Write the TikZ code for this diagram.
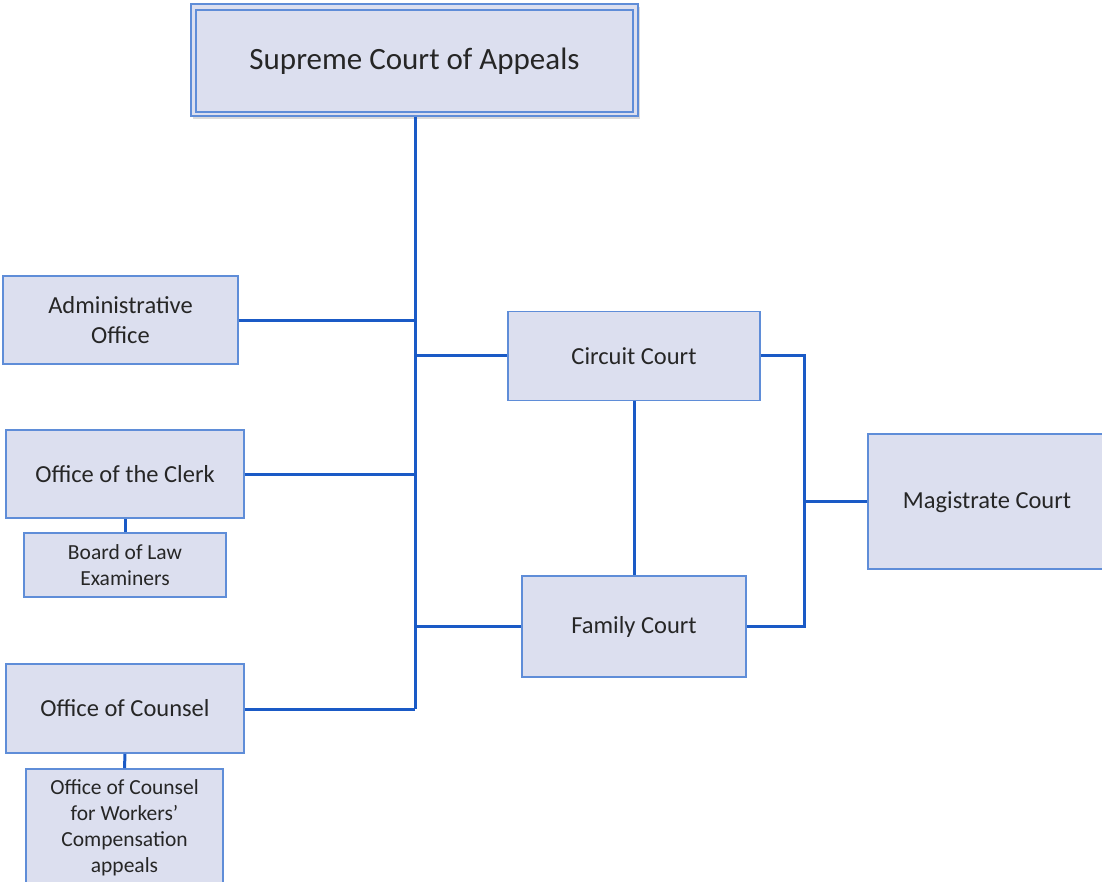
\documentclass[tikz,border=0pt]{standalone}
\usepackage{fontspec}
\setmainfont{Carlito}
\usetikzlibrary{shadows}
\definecolor{boxfill}{HTML}{DCDFEF}
\definecolor{boxline}{HTML}{5F8DD8}
\definecolor{conn}{HTML}{1A5AC6}
\tikzset{
  box/.style={draw=boxline, line width=1.8pt, fill=boxfill, align=center, inner sep=0pt, text=black!85},
  midtext/.style={font=\fontsize{24.5}{30}\selectfont},
  smalltext/.style={font=\fontsize{21.5}{26}\selectfont},
  link/.style={draw=conn, line width=3pt}
}
\begin{document}
\begin{tikzpicture}[x=1pt,y=-1pt]
\useasboundingbox (0,0) rectangle (1102,881);
% Supreme court
\node[box, minimum width=447pt, minimum height=112pt, line width=1.4pt,
  drop shadow={shadow xshift=2pt, shadow yshift=-3pt, opacity=0.35, fill=black!40}] (sup) at (414.5,60) {};
\node[box, minimum width=437pt, minimum height=102pt, line width=1.4pt, font=\fontsize{31}{36}\selectfont] (supin) at (414.5,61) {Supreme Court of Appeals};
% left boxes
\node[box, midtext, minimum width=235pt, minimum height=88pt] (admin) at (120.5,320) {Administrative\\Office};
\node[box, midtext, minimum width=238pt, minimum height=88pt] (clerk) at (125,474) {Office of the Clerk};
\node[box, smalltext, minimum width=202pt, minimum height=64pt] (board) at (125,565) {Board of Law\\Examiners};
\node[box, midtext, minimum width=238pt, minimum height=89pt] (counsel) at (125,708.5) {Office of Counsel};
\node[box, smalltext, minimum width=197pt, minimum height=118pt] (workers) at (124.5,828) {Office of Counsel\\for Workers’\\Compensation\\appeals};
% right boxes
\node[box, midtext, minimum width=252pt, minimum height=89pt] (circuit) at (634,356) {Circuit Court};
\node[box, midtext, minimum width=224pt, minimum height=101pt] (family) at (634,626.5) {Family Court};
\node[box, minimum width=268pt, minimum height=135pt] (mag) at (1002,501.5) {};
\node[midtext, text=black!85, inner sep=0pt] (magtext) at (987,502) {Magistrate Court};
% trunk
\coordinate (tbot) at (415,709);
\coordinate (ta) at (415,320);
\coordinate (tc) at (415,355);
\coordinate (tk) at (415,474);
\coordinate (tf) at (415,626);
\coordinate (rtop) at (804,355);
\coordinate (rmid) at (804,501);
\coordinate (rbot) at (804,626);
\draw[link] (sup.south -| tbot) -- (tbot);
\draw[link] (admin.east |- ta) -- (ta);
\draw[link] (tc) -- (circuit.west |- tc);
\draw[link] (clerk.east |- tk) -- (tk);
\draw[link] (tf) -- (family.west |- tf);
\draw[link] (counsel.east |- tbot) -- (tbot);
\draw[link] (circuit.south) -- (family.north);
\draw[link] (circuit.east |- rtop) -- (rtop) -- (rbot) -- (family.east |- rbot);
\draw[link] (rmid) -- (mag.west |- rmid);
\draw[link] (clerk.south) -- (board.north);
\draw[link] (counsel.south) -- (workers.north);
\end{tikzpicture}
\end{document}
